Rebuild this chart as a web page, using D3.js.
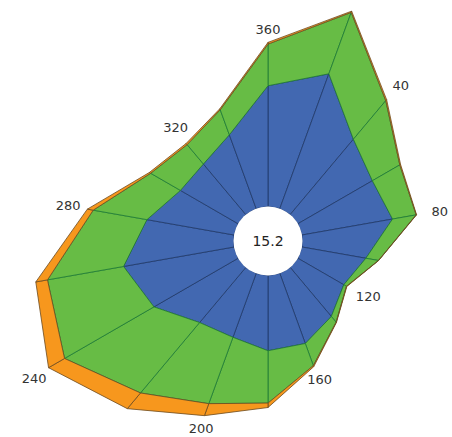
<!DOCTYPE html>
<html>
<head>
<meta charset="utf-8">
<script src="https://cdn.jsdelivr.net/npm/d3@7"></script>
<style>
  body { margin: 0; background: #fff; }
  text { font-family: "DejaVu Sans", Verdana, sans-serif; }
</style>
</head>
<body>
<div id="rose"></div>
<script>
// wind directions (degrees), 0 drawn as 360
const directions = [0, 20, 40, 60, 80, 100, 120, 140, 160, 180, 200, 220, 240, 260, 280, 300, 320, 340];
// frequency (%) per class, stacked from the centre outward
const classA = [5.49, 6.52, 4.47, 3.91, 4.18, 2.95, 2.41, 2.91, 3.39, 3.42, 3.09, 3.27, 4.42, 5.10, 4.02, 3.03, 3.00, 3.57];
const classB = [1.89, 2.97, 2.29, 1.44, 1.09, 0.58, 0.14, 0.34, 1.07, 2.38, 3.21, 4.18, 4.69, 3.51, 2.48, 1.56, 1.15, 1.21];
const classC = [0.08, 0.06, 0.06, 0.04, 0.02, 0.01, 0.02, 0.02, 0.05, 0.20, 0.58, 0.93, 0.84, 0.54, 0.27, 0.07, 0.07, 0.05];
const tickDirs = [40, 80, 120, 160, 200, 240, 280, 320, 360];
const calm = "15.2";

const colors = ["#4268b1", "#67bc45", "#f7971d"];
const strokes = ["#1f3868", "#1d7a35", "#6b4a20"];

const width = 452, height = 437;
const cx = 268, cy = 241, hole = 34.5;

const table = directions.map((d, i) => ({ dir: d, a: classA[i], b: classB[i], c: classC[i] }));
const series = d3.stack().keys(["a", "b", "c"])(table);

const r = d3.scaleLinear().domain([0, 10]).range([hole, hole + 220]);
const angle = d3.scaleLinear().domain([0, 360]).range([0, 2 * Math.PI]);

const svg = d3.select("#rose")
    .append("svg")
    .attr("width", width)
    .attr("height", height)
    .append("g")
    .attr("transform", `translate(${cx},${cy})`);

const n = directions.length;

// one quad per direction sector and class
series.forEach((s, k) => {
    const g = svg.append("g");
    g.selectAll("path")
        .data(s)
        .enter()
        .append("path")
        .attr("d", (d, i) => {
            const j = (i + 1) % n;
            const a0 = angle(directions[i]);
            const a1 = angle(directions[j] === 0 ? 360 : directions[j]);
            const nx = s[j];
            const pts = [
                d3.pointRadial(a0, r(d[0])),
                d3.pointRadial(a0, r(d[1])),
                d3.pointRadial(a1, r(nx[1])),
                d3.pointRadial(a1, r(nx[0]))
            ];
            return "M" + pts.join("L") + "Z";
        })
        .attr("fill", colors[k])
        .attr("stroke", strokes[k])
        .attr("stroke-width", 0.8)
        .attr("stroke-linejoin", "round");
});

//Centre hole with calm value
svg.append("circle")
    .attr("r", hole)
    .attr("fill", "#fff");

svg.append("text")
    .attr("text-anchor", "middle")
    .attr("dominant-baseline", "central")
    .style("font-size", "14px")
    .style("fill", "#222")
    .text(calm);

//Direction labels just outside the outer ring
const outer = series[series.length - 1];
const labels = svg.append("g")
    .selectAll("text")
    .data(tickDirs)
    .enter()
    .append("text")
    .attr("text-anchor", "middle")
    .attr("dominant-baseline", "central")
    .style("font-size", "13px")
    .style("fill", "#333")
    .text(d => d);

labels.each(function (d) {
    const i = directions.indexOf(d % 360);
    const a = angle(d);
    const s = Math.abs(Math.sin(a));
    const w = this.getComputedTextLength();
    const pad = 11 + s * w / 2 + 2 * Math.cos(a);
    const p = d3.pointRadial(a, r(outer[i][1]) + pad);
    d3.select(this).attr("x", p[0] + 4 * s).attr("y", p[1]);
});
</script>
</body>
</html>
